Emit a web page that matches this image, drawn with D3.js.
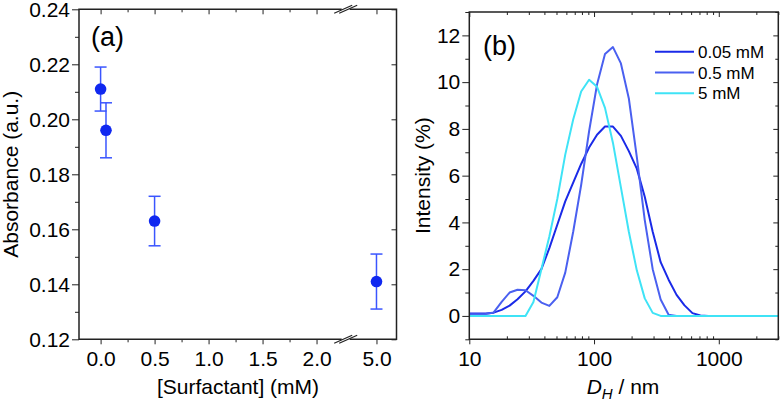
<!DOCTYPE html>
<html><head><meta charset="utf-8">
<script src="https://cdn.jsdelivr.net/npm/d3@7"></script>
<style>body{margin:0;background:#fff}text{font-family:Arial,"Liberation Sans",sans-serif;fill:#000}</style>
</head><body><svg id="c" width="780" height="403"></svg>
<script>
// ---------- Data: panel (a) ----------
const surfactant = [0, 0.05, 0.5, 5];
const absorbance = [0.211, 0.196, 0.163, 0.141];
const absErr = [0.008, 0.010, 0.009, 0.010];
const absYTicks = [0.12, 0.14, 0.16, 0.18, 0.20, 0.22, 0.24];
const absXTicks = [0, 0.5, 1.0, 1.5, 2.0, 5.0];

// ---------- Data: panel (b) ----------
const sizes = [8.721, 10.1, 11.7, 13.54, 15.69, 18.17, 21.04, 24.36, 28.21, 32.67, 37.84, 43.82, 50.75, 58.77, 68.06, 78.82, 91.28, 105.7, 122.4, 141.8, 164.2, 190.1, 220.2, 255.0, 295.3, 342.0, 396.1, 458.7, 531.2, 615.1, 712.4, 825.0, 955.4, 1106, 1281, 1484, 1718, 1990, 2305, 2669, 3091];
const int005 = [0.1, 0.1, 0.1, 0.1, 0.14, 0.26, 0.44, 0.71, 1.05, 1.5, 2.0, 2.9, 3.9, 4.9, 5.7, 6.5, 7.2, 7.75, 8.1, 8.1, 7.7, 7.05, 6.3, 5.1, 3.6, 2.3, 1.55, 0.9, 0.45, 0.12, 0.02, 0, 0, 0, 0, 0, 0, 0, 0, 0, 0];
const int05 = [0.07, 0.07, 0.07, 0.08, 0.15, 0.6, 1.0, 1.12, 1.1, 0.86, 0.57, 0.43, 0.8, 1.85, 3.6, 5.6, 7.9, 9.9, 11.2, 11.5, 10.8, 9.3, 6.8, 4.1, 2.0, 0.7, 0.05, 0, 0, 0, 0, 0, 0, 0, 0, 0, 0, 0, 0, 0, 0];
const int5 = [0, 0, 0, 0, 0, 0, 0, 0, 0, 0.6, 2.0, 3.4, 5.0, 6.9, 8.4, 9.6, 10.1, 9.8, 8.9, 7.4, 5.5, 3.6, 1.95, 0.75, 0.13, 0, 0, 0, 0, 0, 0, 0, 0, 0, 0, 0, 0, 0, 0, 0, 0];
const seriesNames = ["0.05 mM", "0.5 mM", "5 mM"];
const intYTicks = [0, 2, 4, 6, 8, 10, 12];
const sizeTicks = [10, 100, 1000];

const seriesData = [int005, int05, int5];
const seriesColors = ["#1a2ae8", "#4a60f0", "#3fe3f6"];

const svg = d3.select("#c");
const FONT = 21;

// ================= Panel (a) =================
const aL = 79, aR = 396.5, aT = 9.3, aB = 339.3, aBrk = 345.7;
const xa1 = d3.scaleLinear().domain([-0.2, 2.27]).range([aL, aBrk]);
const xa2 = d3.scaleLinear().domain([4.714, 5.186]).range([aBrk, aR]);
const xa = v => v < 3 ? xa1(v) : xa2(v);
const ya = d3.scaleLinear().domain([0.12, 0.24]).range([aB, aT]);

const ga = svg.append("g");
const leftA = d3.axisLeft(ya).tickValues(absYTicks).tickFormat(d3.format(".2f")).tickSize(7).tickPadding(2);
ga.append("g").attr("transform", `translate(${aL},0)`).call(leftA)
  .call(g => { g.select(".domain").remove(); g.selectAll("text").style("font-size", FONT + "px"); });
const leftAm = d3.axisLeft(ya).tickValues(d3.range(0.13, 0.24, 0.02)).tickFormat("").tickSize(4);
ga.append("g").attr("transform", `translate(${aL},0)`).call(leftAm).call(g => g.select(".domain").remove());

const botA1 = d3.axisBottom(xa1).tickValues(absXTicks.filter(v => v < 3)).tickFormat(d3.format(".1f")).tickSize(5).tickPadding(7);
ga.append("g").attr("transform", `translate(0,${aB})`).call(botA1)
  .call(g => { g.select(".domain").remove(); g.selectAll("text").style("font-size", FONT + "px"); });
const botA2 = d3.axisBottom(xa2).tickValues(absXTicks.filter(v => v > 3)).tickFormat(d3.format(".1f")).tickSize(5).tickPadding(7);
ga.append("g").attr("transform", `translate(0,${aB})`).call(botA2)
  .call(g => { g.select(".domain").remove(); g.selectAll("text").style("font-size", FONT + "px"); });
const botA1m = d3.axisBottom(xa1).tickValues([0.25, 0.75, 1.25, 1.75]).tickFormat("").tickSize(3);
ga.append("g").attr("transform", `translate(0,${aB})`).call(botA1m).call(g => g.select(".domain").remove());
const topA1 = d3.axisBottom(xa1).tickValues(absXTicks.filter(v => v < 3)).tickFormat("").tickSize(5);
ga.append("g").attr("transform", `translate(0,${aT})`).call(topA1).call(g => g.select(".domain").remove());
const topA1m = d3.axisBottom(xa1).tickValues([0.25, 0.75, 1.25, 1.75]).tickFormat("").tickSize(3);
ga.append("g").attr("transform", `translate(0,${aT})`).call(topA1m).call(g => g.select(".domain").remove());
const topA2 = d3.axisBottom(xa2).tickValues([5]).tickFormat("").tickSize(5);
ga.append("g").attr("transform", `translate(0,${aT})`).call(topA2).call(g => g.select(".domain").remove());
const rightA = d3.axisLeft(ya).tickValues(absYTicks).tickFormat("").tickSize(5);
ga.append("g").attr("transform", `translate(${aR},0)`).call(rightA).call(g => g.select(".domain").remove());

const frameStroke = "#222";
ga.append("path").attr("d", `M${aL},${aT}V${aB}H${aR}V${aT}Z`).attr("fill", "none").attr("stroke", frameStroke).attr("stroke-width", 1.5);
[aT, aB].forEach(yy => {
  ga.append("rect").attr("x", aBrk - 4).attr("y", yy - 2).attr("width", 8).attr("height", 4).attr("fill", "#fff");
  [-2.5, 2.5].forEach(dx => {
    ga.append("line").attr("x1", aBrk + dx - 9).attr("y1", yy + 4).attr("x2", aBrk + dx + 9).attr("y2", yy - 4)
      .attr("stroke", frameStroke).attr("stroke-width", 1.2);
  });
});

const errColor = "#3a55ff";
surfactant.forEach((s, i) => {
  const cx = xa(s), y1 = ya(absorbance[i] + absErr[i]), y0 = ya(absorbance[i] - absErr[i]);
  ga.append("line").attr("x1", cx).attr("x2", cx).attr("y1", y1).attr("y2", y0).attr("stroke", errColor).attr("stroke-width", 1.5);
  [y1, y0].forEach(yy => ga.append("line").attr("x1", cx - 6).attr("x2", cx + 6).attr("y1", yy).attr("y2", yy).attr("stroke", errColor).attr("stroke-width", 1.5));
});
ga.selectAll("circle.pt").data(surfactant).enter().append("circle")
  .attr("cx", d => xa(d)).attr("cy", (d, i) => ya(absorbance[i])).attr("r", 5.8).attr("fill", "#1028f0");

ga.append("text").attr("x", 91).attr("y", 46).style("font-size", "27px").text("(a)");
ga.append("text").attr("transform", `translate(18,${(aT + aB) / 2}) rotate(-90)`).attr("text-anchor", "middle").style("font-size", FONT + "px").text("Absorbance (a.u.)");
ga.append("text").attr("x", 238).attr("y", 394).attr("text-anchor", "middle").style("font-size", FONT + "px").text("[Surfactant] (mM)");

// ================= Panel (b) =================
const bL = 469.3, bR = 778.3, bT = 12, bB = 339.3;
const xb = d3.scaleLog().domain([10, 3000]).range([bL, bR]);
const yb = d3.scaleLinear().domain([-1, 13]).range([bB, bT]);
const gb = svg.append("g");

const minorX = [];
[10, 100, 1000].forEach(dec => { for (let k = 2; k <= 9; k++) { if (dec * k <= 3000) minorX.push(dec * k); } });
const minorY = [-1, 1, 3, 5, 7, 9, 11, 13];

gb.append("g").attr("transform", `translate(${bL},0)`).call(d3.axisLeft(yb).tickValues(intYTicks).tickFormat(d3.format("d")).tickSize(7).tickPadding(2))
  .call(g => { g.select(".domain").remove(); g.selectAll("text").style("font-size", FONT + "px"); });
gb.append("g").attr("transform", `translate(${bL},0)`).call(d3.axisLeft(yb).tickValues(minorY).tickFormat("").tickSize(4))
  .call(g => g.select(".domain").remove());
gb.append("g").attr("transform", `translate(${bR},0)`).call(d3.axisLeft(yb).tickValues(intYTicks).tickFormat("").tickSize(5))
  .call(g => g.select(".domain").remove());
gb.append("g").attr("transform", `translate(${bR},0)`).call(d3.axisLeft(yb).tickValues(minorY).tickFormat("").tickSize(3))
  .call(g => g.select(".domain").remove());
gb.append("g").attr("transform", `translate(0,${bB})`).call(d3.axisBottom(xb).tickValues(sizeTicks).tickFormat(d3.format("d")).tickSize(5).tickPadding(7))
  .call(g => { g.select(".domain").remove(); g.selectAll("text").style("font-size", FONT + "px"); });
gb.append("g").attr("transform", `translate(0,${bB})`).call(d3.axisTop(xb).tickValues(minorX).tickFormat("").tickSize(3))
  .call(g => g.select(".domain").remove());
gb.append("g").attr("transform", `translate(0,${bT})`).call(d3.axisBottom(xb).tickValues(sizeTicks).tickFormat("").tickSize(5))
  .call(g => g.select(".domain").remove());
gb.append("g").attr("transform", `translate(0,${bT})`).call(d3.axisBottom(xb).tickValues(minorX).tickFormat("").tickSize(3))
  .call(g => g.select(".domain").remove());
gb.selectAll(".tick line").attr("stroke", frameStroke);
ga.selectAll(".tick line").attr("stroke", frameStroke);

gb.append("clipPath").attr("id", "clipb").append("rect").attr("x", bL).attr("y", bT).attr("width", bR - bL).attr("height", bB - bT);
const line = d3.line().x(d => xb(d[0])).y(d => yb(d[1]));
seriesData.forEach((arr, si) => {
  gb.append("path").attr("clip-path", "url(#clipb)").attr("d", line(sizes.map((s, i) => [s, arr[i]])))
    .attr("fill", "none").attr("stroke", seriesColors[si]).attr("stroke-width", 2).attr("stroke-linejoin", "round");
});
gb.append("path").attr("d", `M${bL},${bT}V${bB}H${bR}V${bT}Z`).attr("fill", "none").attr("stroke", frameStroke).attr("stroke-width", 1.5);

seriesNames.forEach((n, i) => {
  const ly = 51.7 + i * 20.8;
  gb.append("line").attr("x1", 655).attr("x2", 694).attr("y1", ly).attr("y2", ly).attr("stroke", seriesColors[i]).attr("stroke-width", 2);
  gb.append("text").attr("x", 698).attr("y", ly + 6).style("font-size", "17px").text(n);
});

gb.append("text").attr("x", 483).attr("y", 55).style("font-size", "27px").text("(b)");
gb.append("text").attr("transform", `translate(430,${(bT + bB) / 2}) rotate(-90)`).attr("text-anchor", "middle").style("font-size", FONT + "px").text("Intensity (%)");
const xl = gb.append("text").attr("x", 623).attr("y", 394).attr("text-anchor", "middle").style("font-size", FONT + "px");
xl.append("tspan").style("font-style", "italic").text("D");
xl.append("tspan").style("font-style", "italic").style("font-size", "15px").attr("dy", 5).text("H");
xl.append("tspan").attr("dy", -5).text(" / nm");
</script></body></html>
